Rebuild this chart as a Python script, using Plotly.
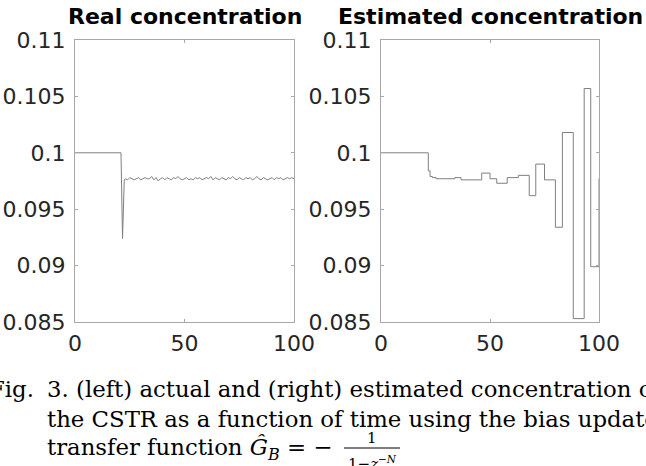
import plotly.graph_objects as go

# ---------------- data ----------------
real_t = [0, 21, 21.7, 22.5] + list(range(23, 101))
real_noise = [
    0.0977, 0.0976, 0.0978, 0.0977, 0.0976, 0.0977, 0.0978, 0.0976, 0.0977, 0.0978,
    0.0977, 0.0977, 0.0979, 0.0976, 0.0978, 0.0975, 0.0977, 0.0978, 0.0976, 0.0978,
    0.0977, 0.0976, 0.0978, 0.0977, 0.0979, 0.0977, 0.0976, 0.0977, 0.0978, 0.0976,
    0.0977, 0.0976, 0.0978, 0.0977, 0.0978, 0.0976, 0.0977, 0.0978, 0.0977, 0.0979,
    0.0976, 0.0978, 0.0977, 0.0976, 0.0978, 0.0977, 0.0976, 0.0978, 0.0977, 0.0979,
    0.0977, 0.0976, 0.0978, 0.0977, 0.0976, 0.0978, 0.0977, 0.0978, 0.0976, 0.0977,
    0.0979, 0.0977, 0.0976, 0.0978, 0.0977, 0.0976, 0.0977, 0.0978, 0.0976, 0.0978,
    0.0977, 0.0978, 0.0976, 0.0977, 0.0978, 0.0977, 0.0978, 0.0977,
]
real_c = [0.1, 0.1, 0.0924, 0.0976] + real_noise

est_t = [0, 21.7, 22.5, 23.6, 25.3, 33.9, 36.7, 46.2, 50.0, 53.1, 57.9, 63.0,
         68.0, 71.0, 75.0, 80.0, 83.2, 88.2, 93.2, 96.2, 100]
est_c = [0.1, 0.0984, 0.0979, 0.0978, 0.0977, 0.0978, 0.0976, 0.0982, 0.0977,
         0.0973, 0.0978, 0.0980, 0.0962, 0.0990, 0.0976, 0.0934, 0.1018, 0.0853,
         0.1057, 0.0899, 0.0977]

y_ticks = [0.085, 0.09, 0.095, 0.1, 0.105, 0.11]
y_tick_text = ["0.085", "0.09", "0.095", "0.1", "0.105", "0.11"]
x_ticks = [0, 50, 100]
x_tick_text = ["0", "50", "100"]

titles = ["Real concentration", "Estimated concentration"]

# ---------------- layout helpers ----------------
W, H = 646, 466
def px(x):
    return x / W
def py(y):
    return 1 - y / H

LINE = "#7f7f7f"
AX = "#a8a8a8"
TXT = "#262626"
SANS = "DejaVu Sans"
SERIF = "DejaVu Serif"

fig = go.Figure()
fig.add_trace(go.Scatter(x=real_t, y=real_c, mode="lines",
                         line=dict(color=LINE, width=1), xaxis="x", yaxis="y",
                         showlegend=False, hoverinfo="skip"))
fig.add_trace(go.Scatter(x=est_t, y=est_c, mode="lines", line_shape="hv",
                         line=dict(color=LINE, width=1), xaxis="x2", yaxis="y2",
                         showlegend=False, hoverinfo="skip"))

xcommon = dict(range=[0, 100], tickvals=x_ticks, ticktext=x_tick_text,
               showline=True, linecolor=AX, linewidth=1, mirror="ticks",
               ticks="inside", ticklen=3, tickcolor=AX, showgrid=False,
               zeroline=False, tickfont=dict(family=SANS, size=22, color=TXT),
               ticklabelstandoff=2, automargin=False)
ycommon = dict(range=[0.085, 0.11], tickvals=y_ticks, ticktext=y_tick_text,
               showline=True, linecolor=AX, linewidth=1, mirror="ticks",
               ticks="inside", ticklen=3, tickcolor=AX, showgrid=False,
               zeroline=False, tickfont=dict(family=SANS, size=22, color=TXT),
               ticklabelstandoff=4, automargin=False, domain=[py(322), py(40)])

fig.update_layout(
    width=W, height=H,
    margin=dict(l=0, r=0, t=0, b=0, autoexpand=False),
    paper_bgcolor="white", plot_bgcolor="white",
    xaxis=dict(domain=[px(75), px(294)], anchor="y", **xcommon),
    yaxis=dict(anchor="x", **ycommon),
    xaxis2=dict(domain=[px(381), px(599)], anchor="y2", **xcommon),
    yaxis2=dict(anchor="x2", **ycommon),
)

ann = []
for title, cx in zip(titles, [184.5, 490]):
    ann.append(dict(text="<b>%s</b>" % title, x=px(cx), y=py(17), xref="paper",
                    yref="paper", xanchor="center", yanchor="middle",
                    showarrow=False,
                    font=dict(family=SANS, size=22, color="black")))

cap_font = dict(family=SERIF, size=22.8, color="black")
def cap(text, x, y, anchor="left", size=None):
    f = dict(cap_font)
    if size:
        f["size"] = size
    ann.append(dict(text=text, x=px(x), y=py(y), xref="paper", yref="paper",
                    xanchor=anchor, yanchor="middle", showarrow=False, font=f))

cap("Fig.", 36, 389, anchor="right")
cap("3. (left) actual and (right) estimated concentration of", 45, 389)
cap("the CSTR as a function of time using the bias update", 45, 419)
cap("transfer function <i>Ĝ</i><sub><i>B</i></sub> = −", 45, 449)
cap("1", 372, 438, anchor="center", size=15)
cap("1−<i>z</i><sup>−<i>N</i></sup>", 372, 463, anchor="center", size=15)
fig.update_layout(annotations=ann)
fig.add_shape(type="line", xref="paper", yref="paper", x0=px(344), x1=px(400),
              y0=py(448), y1=py(448), line=dict(color="black", width=1))

fig.write_html(
    "out.html",
    config={"displayModeBar": False},
    post_script="document.body.style.margin='0';document.body.style.overflow='hidden';",
)
